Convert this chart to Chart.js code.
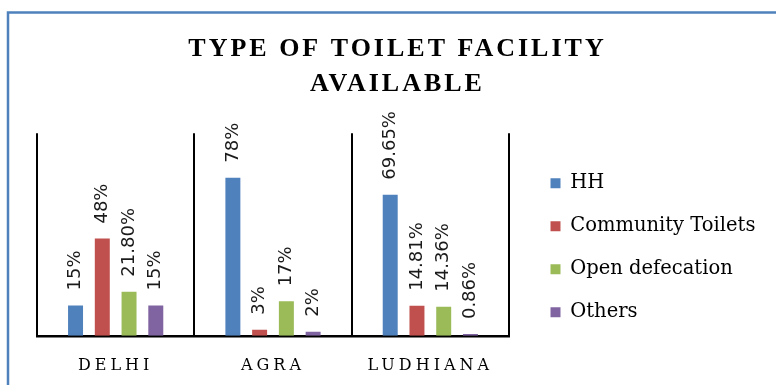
<!DOCTYPE html>
<html>
<head>
<meta charset="utf-8">
<script src="https://cdn.jsdelivr.net/npm/chart.js@4.4.1/dist/chart.umd.min.js"></script>
<style>
  html, body { margin: 0; padding: 0; background: #fff; }
  .wrap { width: 776px; height: 385px; position: relative; }
</style>
</head>
<body>
<div class="wrap"><canvas id="toiletChart"></canvas></div>
<script>
const cities = ["DELHI", "AGRA", "LUDHIANA"];
const seriesNames = ["HH", "Community Toilets", "Open defecation", "Others"];
const seriesColors = ["#4f81bd", "#c0504d", "#9bbb59", "#8064a2"];

// values kept as text so the labels keep their decimals
const hh = ["15", "78", "69.65"];
const community = ["48", "3", "14.81"];
const openDefecation = ["21.80", "17", "14.36"];
const others = ["15", "2", "0.86"];

const seriesValues = [hh, community, openDefecation, others];

// blue frame round the chart
const frame = {
    id: "frame",
    beforeDraw(chart) {
        const ctx = chart.ctx;
        ctx.save();
        ctx.strokeStyle = "#4f81bd";
        ctx.lineWidth = 2.5;
        ctx.beginPath();
        ctx.moveTo(8, chart.height);
        ctx.lineTo(8, 12.5);
        ctx.lineTo(chart.width, 12.5);
        ctx.stroke();
        ctx.restore();

        // spaced out capitals for the title
        const title = chart.titleBlock;
        if (title && !title.spaced) {
            const draw = title.draw.bind(title);
            title.draw = () => {
                chart.ctx.letterSpacing = "3px";
                draw();
                chart.ctx.letterSpacing = "0px";
            };
            title.spaced = true;
        }
    }
};

// rotated percentage labels above each bar
const valueLabels = {
    id: "valueLabels",
    afterDatasetsDraw(chart) {
        const ctx = chart.ctx;
        ctx.save();
        ctx.letterSpacing = "0px";
        ctx.font = "18px 'DejaVu Sans'";
        ctx.fillStyle = "#1a1a1a";
        ctx.textAlign = "left";
        ctx.textBaseline = "middle";
        chart.data.datasets.forEach((ds, i) => {
            const meta = chart.getDatasetMeta(i);
            meta.data.forEach((bar, j) => {
                ctx.save();
                ctx.translate(bar.x, bar.y - 15);
                ctx.rotate(-Math.PI / 2);
                ctx.fillText(seriesValues[i][j] + "%", 0, 0);
                ctx.restore();
            });
        });
        ctx.restore();
        // city names (ticks z: 1) are drawn after this, spaced
        ctx.letterSpacing = "4px";
    },
    afterDraw(chart) {
        chart.ctx.letterSpacing = "0px";
    }
};

const datasets = seriesNames.map((name, i) => ({
    label: name,
    data: seriesValues[i].map(Number),
    backgroundColor: seriesColors[i],
    borderWidth: 0,
    categoryPercentage: 0.68,
    barPercentage: 0.56
}));

const ctx = document.getElementById("toiletChart").getContext("2d");
const myChart = new Chart(ctx, {
    type: "bar",
    data: { labels: cities, datasets: datasets },
    options: {
        responsive: true,
        maintainAspectRatio: false,
        animation: false,
        layout: { padding: { top: 14, left: 37, right: 18, bottom: -10 } },
        plugins: {
            tooltip: { enabled: false },
            title: {
                display: true,
                text: ["TYPE OF TOILET FACILITY", "AVAILABLE"],
                color: "#000",
                font: { family: "Liberation Serif", size: 26, weight: "bold", lineHeight: 1.35 },
                padding: { top: 18, bottom: 31 }
            },
            legend: {
                position: "right",
                align: "start",
                maxWidth: 231,
                // empty title only pushes the entries down
                title: { display: true, text: "", padding: { top: 124, bottom: 0 }, font: { size: 10 } },
                labels: {
                    boxWidth: 10,
                    boxHeight: 10,
                    padding: 23.5,
                    color: "#000",
                    font: { family: "DejaVu Serif", size: 19.5 }
                }
            }
        },
        scales: {
            x: {
                grid: { color: "#000", lineWidth: 2, drawTicks: false, offset: true },
                border: { color: "#000", width: 2.5 },
                ticks: {
                    color: "#000",
                    font: { family: "DejaVu Serif", size: 16 },
                    padding: 20,
                    maxRotation: 0,
                    z: 1
                }
            },
            y: {
                // hidden, but keeps a gap between the plot and the legend
                display: false,
                position: "right",
                min: 0,
                max: 100,
                afterFit(scale) { scale.width = 18; }
            }
        }
    },
    plugins: [frame, valueLabels]
});
</script>
</body>
</html>
